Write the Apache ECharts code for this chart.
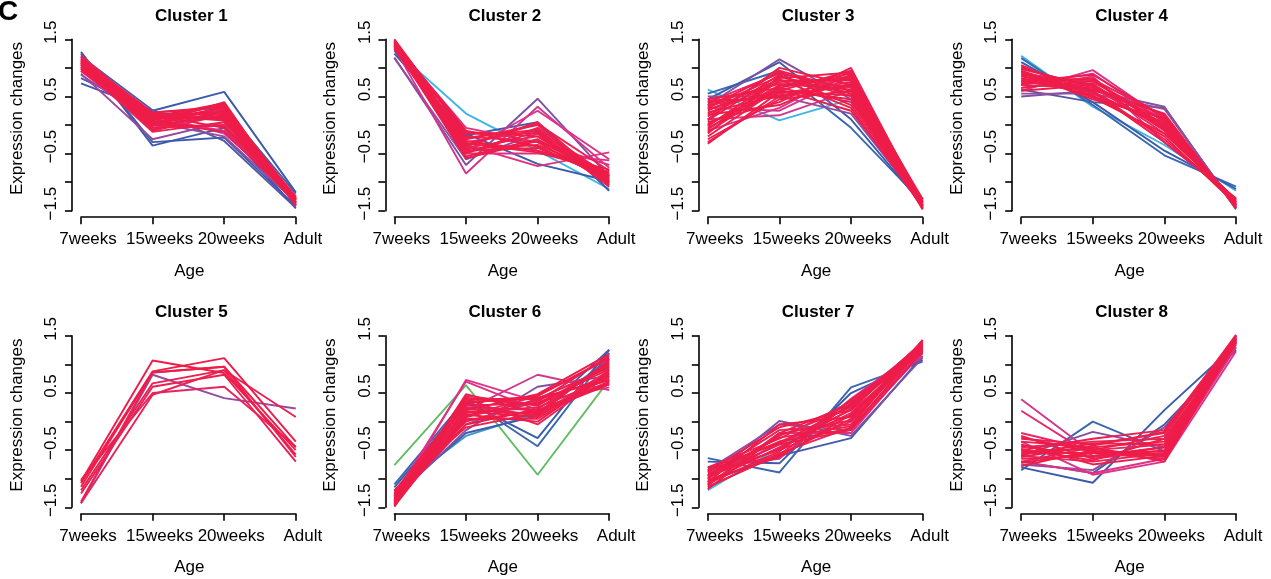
<!DOCTYPE html>
<html><head><meta charset="utf-8">
<script src="https://cdn.jsdelivr.net/npm/echarts@6/dist/echarts.min.js"></script>
<style>html,body{margin:0;padding:0;background:#fff}#c{width:1271px;height:579px}</style>
</head><body><div id="c"></div>
<script>
const ages = ['7weeks', '15weeks', '20weeks', 'Adult'];
const yTicks = [-1.5, -1, -0.5, 0, 0.5, 1, 1.5];
const yTickLabels = ['\u22121.5', '', '\u22120.5', '', '0.5', '', '1.5'];
const clusterTitles = ['Cluster 1', 'Cluster 2', 'Cluster 3', 'Cluster 4', 'Cluster 5', 'Cluster 6', 'Cluster 7', 'Cluster 8'];
const xName = 'Age';
const yName = 'Expression changes';
const panelLetter = 'C';

// each row: [membership, 7weeks, 15weeks, 20weeks, Adult]
const cluster1 = [
  [0.40, 1.28, -0.36, -0.05, -1.46], [0.42, 1.25, -0.30, -0.22, -1.42], [0.40, 0.73, 0.25, 0.58, -1.18],
  [0.45, 0.82, 0.22, 0.30, -1.20], [0.45, 1.20, 0.26, -0.28, -1.45], [0.60, 0.88, 0.05, -0.20, -1.35],
  [0.62, 0.90, -0.25, 0.05, -1.30], [0.75, 1.05, 0.18, -0.15, -1.25], [0.78, 0.95, -0.05, 0.25, -1.38],
  [0.80, 1.10, 0.10, -0.10, -1.30], [0.88, 1.22, 0.12, 0.35, -1.40], [0.90, 1.18, 0.05, 0.28, -1.32],
  [0.92, 1.15, -0.10, 0.18, -1.28], [0.94, 1.12, 0.20, 0.10, -1.35], [0.95, 1.08, 0.02, 0.40, -1.42],
  [0.96, 1.05, 0.15, 0.22, -1.25], [0.97, 1.02, -0.12, 0.05, -1.30], [0.98, 1.00, 0.08, 0.30, -1.38],
  [0.98, 0.98, 0.18, -0.05, -1.28], [0.99, 0.96, 0.00, 0.15, -1.34], [0.99, 1.20, -0.05, 0.00, -1.36],
  [0.99, 1.16, 0.22, 0.32, -1.30], [1.00, 1.10, 0.12, 0.12, -1.40], [1.00, 1.06, -0.08, 0.26, -1.27],
  [1.00, 1.13, 0.06, -0.12, -1.33], [1.00, 0.99, 0.14, 0.38, -1.37], [1.00, 1.03, 0.04, 0.20, -1.31],
  [1.00, 1.19, 0.17, 0.08, -1.39], [1.00, 1.09, -0.02, 0.33, -1.29], [1.00, 1.14, 0.10, 0.24, -1.35],
  [1.00, 0.94, 0.20, 0.18, -1.32], [1.00, 1.07, 0.00, -0.02, -1.26], [1.00, 1.11, 0.16, 0.14, -1.36],
  [1.00, 1.01, 0.09, 0.36, -1.41]
];
const cluster2 = [
  [0.25, 1.32, 0.20, -0.45, -1.12], [0.40, 1.30, -0.18, 0.05, -1.15], [0.40, 1.25, -0.15, -0.68, -0.98],
  [0.55, 1.18, -0.70, 0.46, -0.90], [0.60, 1.17, -0.60, -0.15, -1.00], [0.75, 1.35, -0.85, 0.32, -0.75],
  [0.78, 1.40, -0.45, 0.25, -0.60], [0.80, 1.45, -0.35, -0.72, -0.48], [0.80, 1.38, -0.50, -0.50, -0.62],
  [0.82, 1.42, -0.05, -0.30, -0.70], [0.90, 1.48, -0.30, -0.10, -0.95], [0.92, 1.45, -0.40, -0.20, -0.85],
  [0.94, 1.40, -0.25, 0.00, -1.05], [0.95, 1.36, -0.50, -0.05, -0.90], [0.96, 1.50, -0.20, -0.30, -1.00],
  [0.97, 1.43, -0.35, 0.02, -0.80], [0.98, 1.33, -0.45, -0.40, -0.92], [0.98, 1.47, -0.15, -0.15, -1.08],
  [0.99, 1.39, -0.55, -0.25, -0.88], [0.99, 1.44, -0.28, -0.45, -0.78], [1.00, 1.41, -0.38, 0.05, -1.02],
  [1.00, 1.37, -0.12, -0.20, -0.96], [1.00, 1.46, -0.42, -0.35, -0.86], [1.00, 1.34, -0.22, -0.08, -0.98],
  [1.00, 1.49, -0.32, -0.48, -0.82], [1.00, 1.42, -0.48, -0.12, -1.04], [1.00, 1.38, -0.58, -0.28, -0.90],
  [1.00, 1.45, -0.10, -0.38, -0.94]
];
const cluster3 = [
  [0.25, 0.62, 0.08, 0.45, -1.30], [0.38, 0.55, 0.95, -0.05, -1.35], [0.40, 0.45, 1.10, 0.10, -1.40],
  [0.55, 0.35, 1.15, 0.45, -1.45], [0.60, 0.50, 0.50, 0.20, -1.38], [0.75, 0.10, 0.17, 0.60, -1.30],
  [0.78, 0.30, 0.25, 0.85, -1.42], [0.80, -0.10, 0.30, 0.95, -1.35], [0.88, 0.40, 0.90, 0.65, -1.45],
  [0.90, 0.20, 0.75, 0.80, -1.40], [0.92, -0.05, 0.60, 0.95, -1.48], [0.93, 0.30, 0.85, 0.50, -1.35],
  [0.94, -0.30, 0.50, 0.70, -1.42], [0.95, 0.15, 0.95, 0.60, -1.38], [0.96, 0.00, 0.70, 0.85, -1.30],
  [0.97, 0.35, 0.55, 0.75, -1.46], [0.97, -0.20, 0.65, 0.40, -1.33], [0.98, 0.25, 0.80, 0.30, -1.44],
  [0.98, 0.05, 0.40, 1.00, -1.40], [0.99, -0.15, 0.85, 0.55, -1.37], [0.99, 0.45, 0.65, 0.90, -1.43],
  [0.99, 0.10, 1.00, 0.70, -1.32], [1.00, -0.25, 0.45, 0.60, -1.45], [1.00, 0.28, 0.60, 0.45, -1.39],
  [1.00, -0.08, 0.78, 0.78, -1.36], [1.00, 0.38, 0.72, 0.62, -1.41], [1.00, 0.18, 0.35, 0.88, -1.34],
  [1.00, -0.33, 0.58, 0.52, -1.47], [1.00, 0.08, 0.88, 0.35, -1.38], [1.00, 0.22, 0.52, 0.68, -1.30],
  [1.00, -0.12, 0.68, 0.82, -1.44], [1.00, 0.32, 0.92, 0.55, -1.40], [1.00, 0.02, 0.62, 0.25, -1.35],
  [1.00, 0.42, 0.48, 0.72, -1.42], [1.00, -0.02, 0.82, 0.92, -1.46]
];
const cluster4 = [
  [0.25, 1.21, 0.32, -0.35, -1.15], [0.38, 1.17, 0.35, -0.53, -1.08], [0.40, 1.10, 0.40, -0.45, -1.12],
  [0.45, 0.62, 0.40, 0.30, -1.45], [0.55, 0.50, 0.60, 0.32, -1.48], [0.60, 0.55, 0.55, 0.28, -1.45],
  [0.75, 0.60, 0.96, 0.10, -1.40], [0.78, 0.70, 0.90, 0.05, -1.35], [0.80, 0.65, 0.85, -0.30, -1.30],
  [0.88, 0.90, 0.75, 0.10, -1.40], [0.90, 1.00, 0.65, -0.05, -1.35], [0.92, 0.80, 0.80, 0.15, -1.45],
  [0.93, 0.75, 0.70, -0.15, -1.30], [0.94, 0.95, 0.55, 0.00, -1.38], [0.95, 0.85, 0.60, -0.25, -1.32],
  [0.96, 1.05, 0.50, 0.05, -1.42], [0.97, 0.70, 0.65, 0.18, -1.44], [0.98, 0.88, 0.72, -0.10, -1.36],
  [0.98, 0.78, 0.58, -0.30, -1.28], [0.99, 0.92, 0.45, 0.12, -1.40], [0.99, 0.65, 0.78, -0.02, -1.34],
  [1.00, 0.82, 0.52, -0.20, -1.39], [1.00, 0.98, 0.68, 0.08, -1.43], [1.00, 0.72, 0.82, -0.08, -1.31],
  [1.00, 0.86, 0.62, 0.20, -1.46], [1.00, 0.60, 0.70, 0.02, -1.37], [1.00, 0.94, 0.48, -0.15, -1.33],
  [1.00, 0.76, 0.88, 0.14, -1.41], [1.00, 1.02, 0.58, -0.04, -1.38]
];
const cluster5 = [
  [0.60, -1.43, 0.82, 0.41, 0.23], [0.92, -1.02, 0.50, 0.61, -0.44], [0.94, -1.40, 0.86, 0.96, -0.62],
  [0.96, -1.43, 0.47, 0.90, 0.08], [0.97, -1.26, 0.61, 0.82, -0.70], [0.98, -1.20, 0.67, 0.90, -0.58],
  [0.99, -1.14, 0.86, 0.96, -0.45], [1.00, -1.08, 0.88, 1.11, -0.35], [1.00, -1.05, 1.07, 0.85, -0.50]
];
const cluster6 = [
  [0.05, -0.76, 0.64, -0.93, 0.73], [0.30, -1.20, -0.25, 0.15, 1.10], [0.38, -1.10, 0.40, -0.43, 1.20],
  [0.40, -1.15, 0.35, -0.29, 1.25], [0.42, -1.30, -0.20, 0.10, 1.26], [0.55, -1.35, -0.15, 0.61, 0.80],
  [0.60, -1.40, -0.05, 0.40, 0.95], [0.75, -1.45, 0.20, 0.82, 0.55], [0.78, -1.38, 0.73, 0.35, 0.60],
  [0.80, -1.30, 0.70, 0.20, 0.65], [0.88, -1.49, 0.45, 0.30, 1.00], [0.90, -1.40, 0.30, 0.10, 0.90],
  [0.92, -1.35, 0.10, 0.45, 1.10], [0.93, -1.45, 0.25, 0.20, 0.70], [0.94, -1.25, 0.00, 0.35, 1.15],
  [0.95, -1.30, 0.40, -0.05, 0.85], [0.96, -1.42, 0.15, 0.25, 0.75], [0.97, -1.20, -0.10, 0.15, 1.05],
  [0.98, -1.47, 0.35, 0.40, 0.95], [0.98, -1.38, 0.05, 0.05, 0.80], [0.99, -1.33, 0.20, 0.48, 1.18],
  [0.99, -1.44, 0.48, 0.15, 0.65], [1.00, -1.28, 0.28, 0.32, 0.92], [1.00, -1.36, -0.05, 0.22, 1.02],
  [1.00, -1.48, 0.12, 0.00, 0.88], [1.00, -1.22, 0.38, 0.42, 0.72], [1.00, -1.41, 0.22, 0.12, 1.08],
  [1.00, -1.32, 0.08, 0.38, 0.78], [1.00, -1.46, 0.42, 0.28, 0.98], [1.00, -1.26, 0.18, 0.08, 0.84],
  [1.00, -1.39, 0.32, 0.45, 1.12], [1.00, -1.43, 0.02, 0.18, 0.68]
];
const cluster7 = [
  [0.25, -1.20, -0.45, 0.30, 1.20], [0.38, -0.64, -0.89, 0.60, 1.05], [0.40, -0.70, -0.73, 0.50, 1.08],
  [0.42, -1.05, -0.60, -0.29, 1.15], [0.55, -1.00, 0.01, -0.25, 1.12], [0.60, -0.85, -0.05, -0.15, 1.20],
  [0.75, -0.80, -0.65, 0.40, 1.30], [0.78, -1.10, -0.20, -0.20, 1.25], [0.80, -0.95, -0.40, 0.20, 1.15],
  [0.88, -1.10, -0.35, 0.10, 1.35], [0.90, -0.90, -0.50, 0.00, 1.30], [0.92, -1.00, -0.25, 0.25, 1.40],
  [0.93, -1.15, -0.55, -0.10, 1.25], [0.94, -0.80, -0.30, 0.35, 1.20], [0.95, -0.95, -0.15, -0.05, 1.38],
  [0.96, -1.05, -0.45, 0.15, 1.28], [0.97, -0.85, -0.60, 0.05, 1.42], [0.98, -1.12, -0.20, 0.30, 1.32],
  [0.98, -0.98, -0.40, -0.15, 1.22], [0.99, -0.88, -0.10, 0.20, 1.36], [0.99, -1.08, -0.52, 0.38, 1.26],
  [1.00, -0.93, -0.28, -0.08, 1.43], [1.00, -1.02, -0.62, 0.12, 1.34], [1.00, -0.82, -0.38, 0.28, 1.24],
  [1.00, -1.18, -0.22, 0.02, 1.30], [1.00, -0.96, -0.48, 0.22, 1.39], [1.00, -1.06, -0.05, 0.08, 1.27],
  [1.00, -0.87, -0.35, -0.12, 1.33], [1.00, -1.14, -0.58, 0.32, 1.37]
];
const cluster8 = [
  [0.38, -0.85, 0.00, -0.52, 1.30], [0.40, -0.80, -1.07, 0.20, 1.35], [0.42, -0.70, -0.90, -0.05, 1.25],
  [0.55, -0.60, -0.18, -0.45, 1.40], [0.60, -0.75, -0.85, -0.10, 1.38], [0.75, 0.39, -0.55, -0.60, 1.45],
  [0.78, -0.35, -0.93, -0.70, 1.23], [0.80, -0.70, -0.90, -0.65, 1.30], [0.88, 0.19, -0.60, -0.55, 1.50],
  [0.90, -0.20, -0.50, -0.40, 1.48], [0.92, -0.45, -0.35, -0.30, 1.42], [0.93, -0.60, -0.70, -0.55, 1.45],
  [0.94, -0.30, -0.40, -0.20, 1.52], [0.95, -0.55, -0.55, -0.65, 1.38], [0.96, -0.70, -0.45, -0.35, 1.46],
  [0.97, -0.25, -0.65, -0.50, 1.40], [0.98, -0.50, -0.30, -0.15, 1.50], [0.98, -0.65, -0.60, -0.45, 1.35],
  [0.99, -0.40, -0.75, -0.60, 1.44], [0.99, -0.78, -0.50, -0.25, 1.49], [1.00, -0.35, -0.45, -0.70, 1.41],
  [1.00, -0.58, -0.38, -0.40, 1.47], [1.00, -0.48, -0.68, -0.30, 1.39], [1.00, -0.72, -0.55, -0.52, 1.43],
  [1.00, -0.28, -0.52, -0.58, 1.51], [1.00, -0.62, -0.42, -0.18, 1.37], [1.00, -0.42, -0.62, -0.45, 1.46],
  [1.00, -0.52, -0.48, -0.62, 1.42]
];
const clusters = [cluster1, cluster2, cluster3, cluster4, cluster5, cluster6, cluster7, cluster8];

const FONT = '"Liberation Sans", Arial, Helvetica, sans-serif';
const colorStops = [
  [0.00, [107, 189, 69]], [0.25, [61, 181, 230]], [0.40, [58, 91, 169]],
  [0.58, [139, 79, 160]], [0.78, [222, 51, 138]], [1.00, [238, 28, 72]]
];
function memberColor(m) {
  for (let k = 1; k < colorStops.length; k++) {
    const [p1, c1] = colorStops[k - 1], [p2, c2] = colorStops[k];
    if (m <= p2) {
      const t = (m - p1) / (p2 - p1);
      const c = c1.map((v, j) => Math.round(v + (c2[j] - v) * t));
      return 'rgb(' + c.join(',') + ')';
    }
  }
  return 'rgb(238,28,72)';
}
function yLabel(v) {
  const i = yTicks.findIndex(t => Math.abs(t - v) < 1e-6);
  return i >= 0 ? yTickLabels[i] : '';
}

const COL0 = 81, COLSTEP = 313.4, W = 214.8, ROW0 = 39.3, ROWSTEP = 296.6, H = 171.4;
const grids = [], xAxes = [], yAxes = [], series = [], graphics = [];
const axisStyle = { color: '#000', width: 1.6 };

clusters.forEach((lines, i) => {
  const c = i % 4, r = Math.floor(i / 4);
  const left = COL0 + COLSTEP * c, top = ROW0 + ROWSTEP * r;
  grids.push({ left: left, top: top, width: W, height: H });
  xAxes.push({
    gridIndex: i, type: 'category', data: ages, boundaryGap: false, offset: 6.5,
    axisLine: { onZero: false, lineStyle: axisStyle },
    axisTick: { length: 7, lineStyle: axisStyle },
    axisLabel: { fontSize: 17, color: '#000', fontFamily: FONT, margin: 14, interval: 0, padding: [0, 0, 0, 14] },
    splitLine: { show: false }
  });
  yAxes.push({
    gridIndex: i, type: 'value', min: -1.5, max: 1.5, interval: 0.5, offset: 9,
    axisLine: { show: true, onZero: false, lineStyle: axisStyle },
    axisTick: { show: true, length: 7, lineStyle: axisStyle },
    axisLabel: { rotate: 90, fontSize: 17, color: '#000', fontFamily: FONT, margin: 12, padding: [0, 0, 0, 14], formatter: yLabel },
    splitLine: { show: false }
  });
  lines.forEach(row => {
    series.push({
      type: 'line', xAxisIndex: i, yAxisIndex: i, data: row.slice(1),
      symbol: 'none', clip: false, silent: true, animation: false,
      lineStyle: { width: 1.9, color: memberColor(row[0]) }
    });
  });
  const textBase = { fill: '#000', align: 'center', verticalAlign: 'middle', textAlign: 'center', textVerticalAlign: 'middle' };
  graphics.push({ type: 'text', x: left + W / 2 + 3, y: 16 + ROWSTEP * r,
    style: Object.assign({ text: clusterTitles[i], font: 'bold 17px ' + FONT }, textBase) });
  graphics.push({ type: 'text', x: left + W / 2 + 1, y: 271 + ROWSTEP * r,
    style: Object.assign({ text: xName, font: '17px ' + FONT }, textBase) });
  graphics.push({ type: 'text', x: left - 64, y: top + H / 2 - 6.5, rotation: Math.PI / 2,
    style: Object.assign({ text: yName, font: '17px ' + FONT }, textBase) });
});
graphics.push({ type: 'text', x: 8, y: 12,
  style: { text: panelLetter, font: 'bold 28px ' + FONT, fill: '#000', align: 'center', verticalAlign: 'middle', textAlign: 'center', textVerticalAlign: 'middle' } });

const chart = echarts.init(document.getElementById('c'));
chart.setOption({
  animation: false,
  grid: grids, xAxis: xAxes, yAxis: yAxes, series: series, graphic: graphics
});
</script></body></html>
